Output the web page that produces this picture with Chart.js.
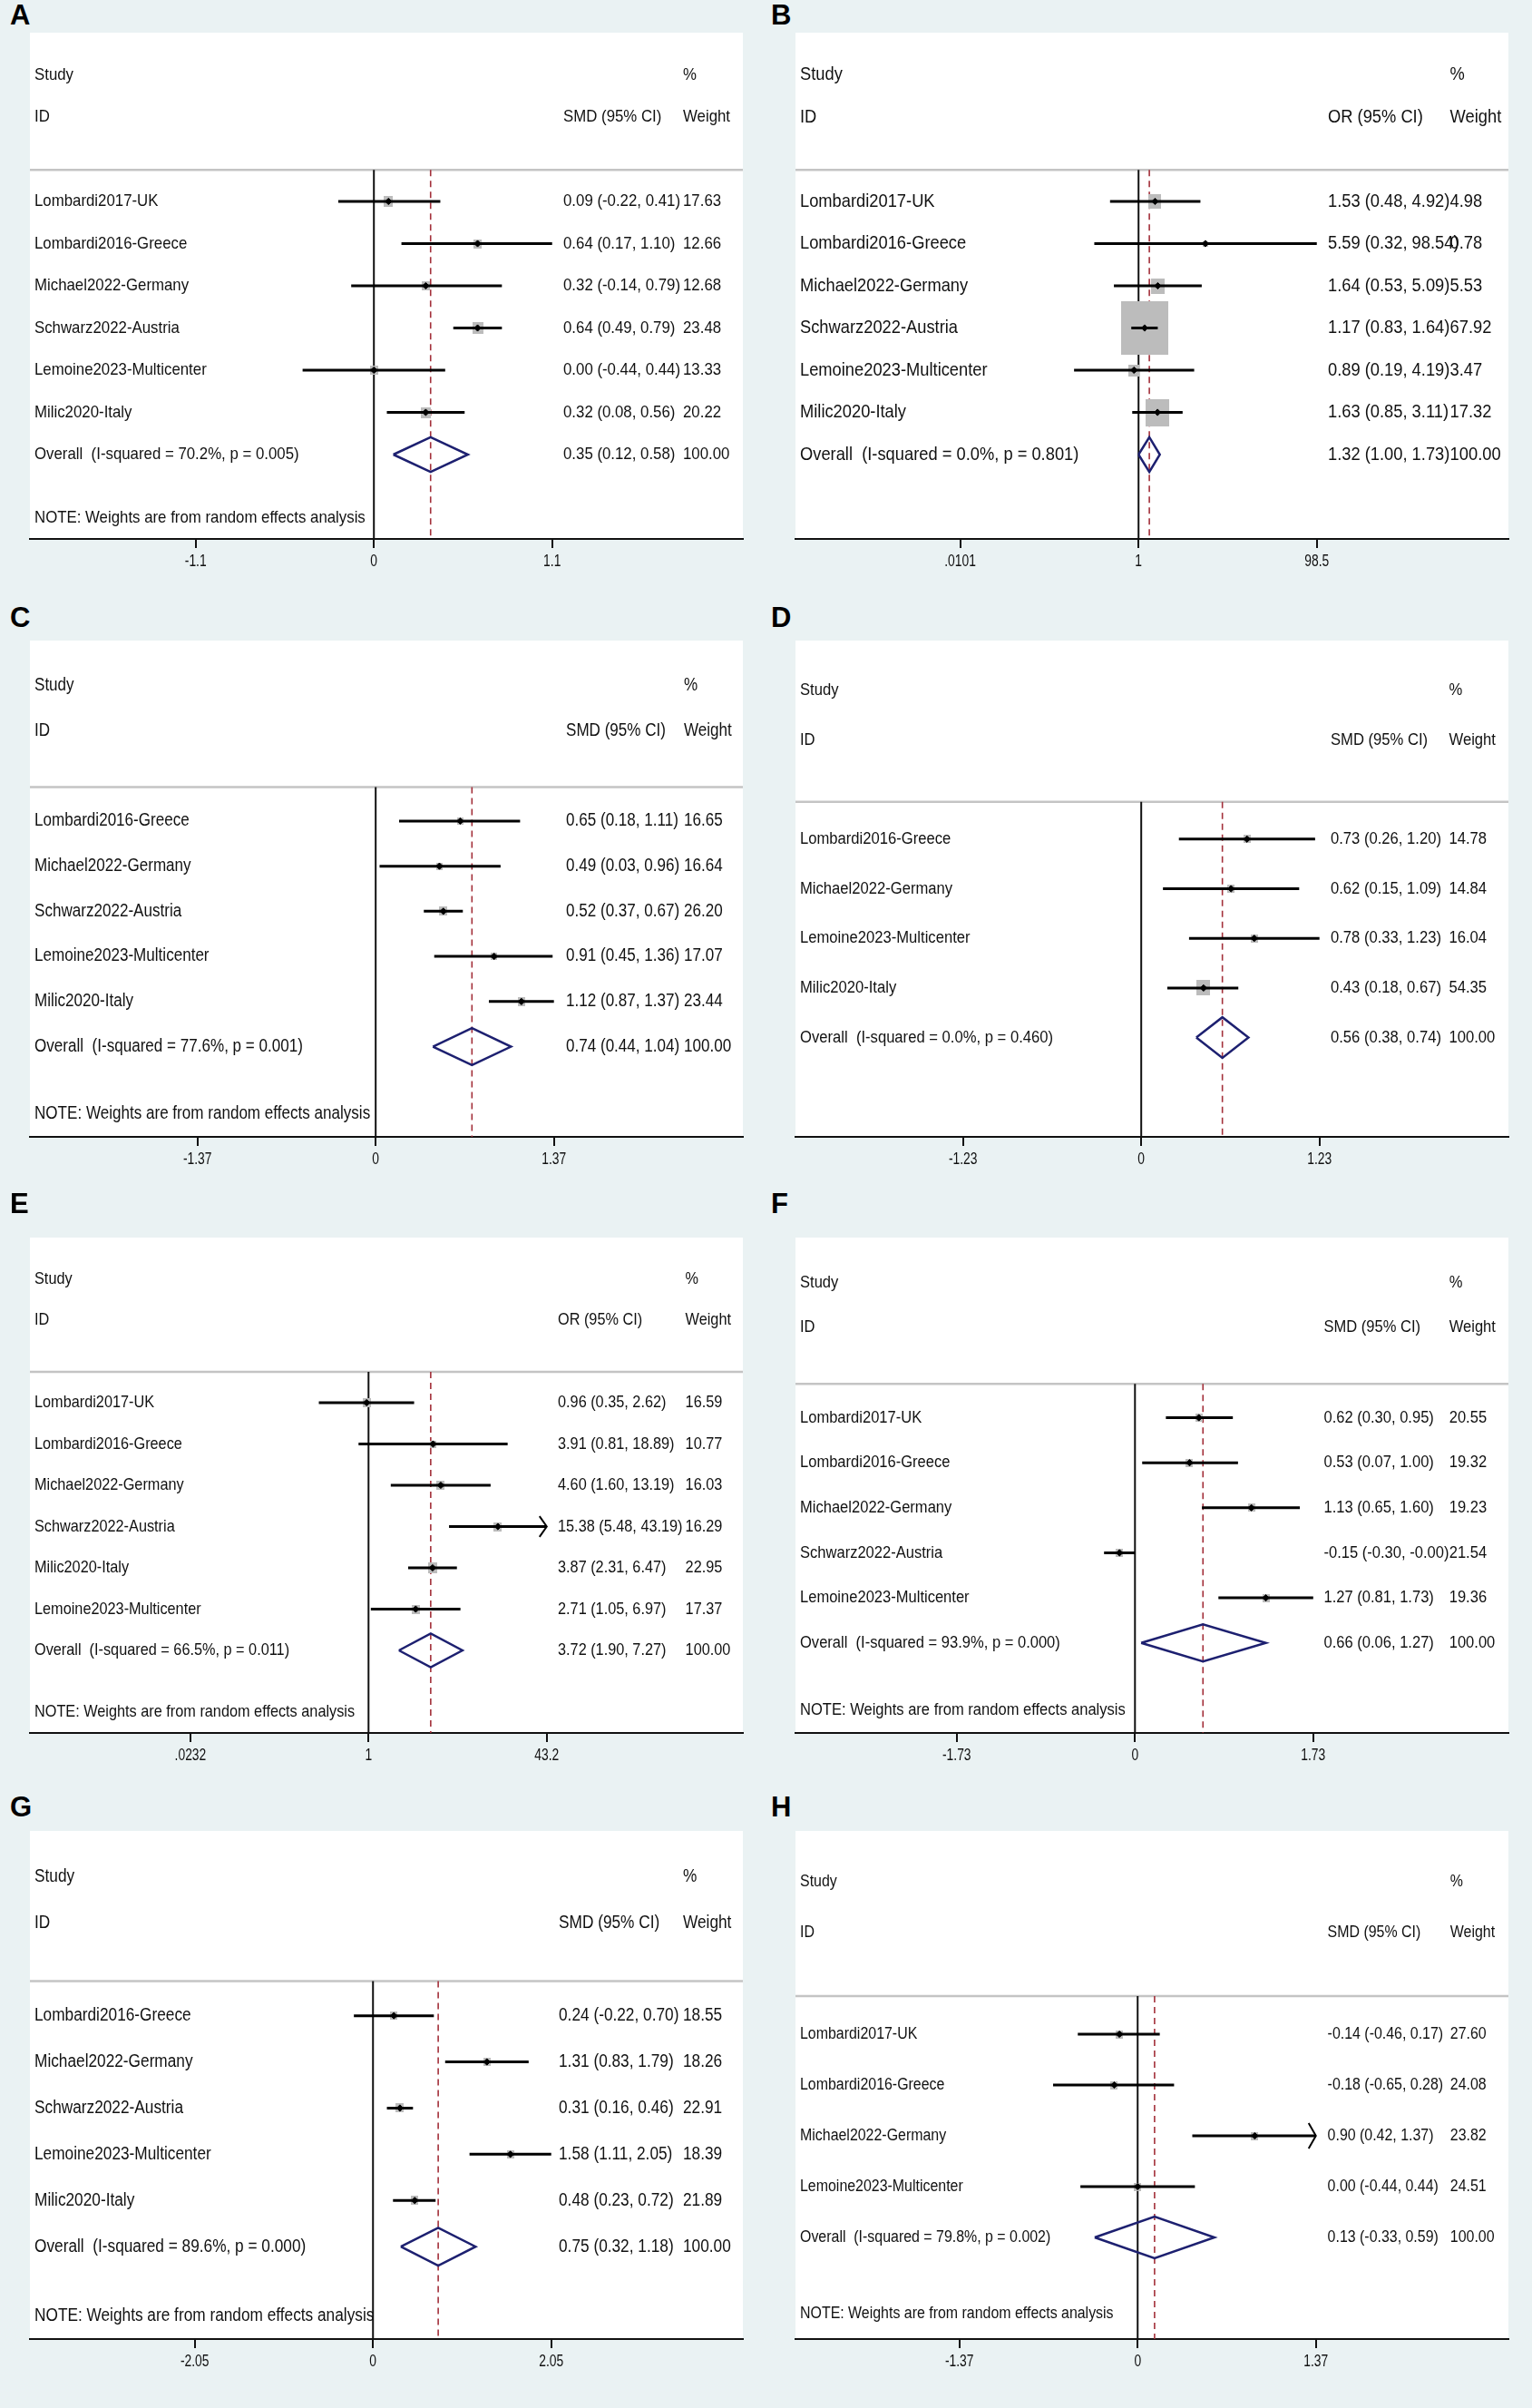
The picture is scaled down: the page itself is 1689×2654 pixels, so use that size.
<!DOCTYPE html>
<html>
<head>
<meta charset="utf-8">
<script src="https://cdn.jsdelivr.net/npm/chart.js@4.4.1/dist/chart.umd.min.js"></script>
<style>
html, body { margin: 0; padding: 0; overflow: hidden; background: #eaf2f3; }
#page { position: relative; width: 1689px; height: 2654px; background: #eaf2f3; }
#page canvas { position: absolute; }
.tag { position: absolute; font: bold 31px "Liberation Sans", Arial, sans-serif; color: #000; line-height: 32px; }
</style>
</head>
<body>
<div id="page"></div>
<script>
// ---- data ----
// A
var studiesA = ['Lombardi2017-UK', 'Lombardi2016-Greece', 'Michael2022-Germany', 'Schwarz2022-Austria', 'Lemoine2023-Multicenter', 'Milic2020-Italy'];
var esA = [0.09, 0.64, 0.32, 0.64, 0.00, 0.32];
var loA = [-0.22, 0.17, -0.14, 0.49, -0.44, 0.08];
var hiA = [0.41, 1.10, 0.79, 0.79, 0.44, 0.56];
var wtA = [17.63, 12.66, 12.68, 23.48, 13.33, 20.22];
var overallA = [0.35, 0.12, 0.58];
var hetA = [70.2, 0.005];
var ticksA = [-1.1, 0, 1.1];
var tickLabelsA = ['-1.1', '0', '1.1'];

// B
var studiesB = ['Lombardi2017-UK', 'Lombardi2016-Greece', 'Michael2022-Germany', 'Schwarz2022-Austria', 'Lemoine2023-Multicenter', 'Milic2020-Italy'];
var esB = [1.53, 5.59, 1.64, 1.17, 0.89, 1.63];
var loB = [0.48, 0.32, 0.53, 0.83, 0.19, 0.85];
var hiB = [4.92, 98.54, 5.09, 1.64, 4.19, 3.11];
var wtB = [4.98, 0.78, 5.53, 67.92, 3.47, 17.32];
var overallB = [1.32, 1.00, 1.73];
var hetB = [0.0, 0.801];
var ticksB = [0.0101, 1, 98.5];
var tickLabelsB = ['.0101', '1', '98.5'];

// C
var studiesC = ['Lombardi2016-Greece', 'Michael2022-Germany', 'Schwarz2022-Austria', 'Lemoine2023-Multicenter', 'Milic2020-Italy'];
var esC = [0.65, 0.49, 0.52, 0.91, 1.12];
var loC = [0.18, 0.03, 0.37, 0.45, 0.87];
var hiC = [1.11, 0.96, 0.67, 1.36, 1.37];
var wtC = [16.65, 16.64, 26.20, 17.07, 23.44];
var overallC = [0.74, 0.44, 1.04];
var hetC = [77.6, 0.001];
var ticksC = [-1.37, 0, 1.37];
var tickLabelsC = ['-1.37', '0', '1.37'];

// D
var studiesD = ['Lombardi2016-Greece', 'Michael2022-Germany', 'Lemoine2023-Multicenter', 'Milic2020-Italy'];
var esD = [0.73, 0.62, 0.78, 0.43];
var loD = [0.26, 0.15, 0.33, 0.18];
var hiD = [1.20, 1.09, 1.23, 0.67];
var wtD = [14.78, 14.84, 16.04, 54.35];
var overallD = [0.56, 0.38, 0.74];
var hetD = [0.0, 0.460];
var ticksD = [-1.23, 0, 1.23];
var tickLabelsD = ['-1.23', '0', '1.23'];

// E
var studiesE = ['Lombardi2017-UK', 'Lombardi2016-Greece', 'Michael2022-Germany', 'Schwarz2022-Austria', 'Milic2020-Italy', 'Lemoine2023-Multicenter'];
var esE = [0.96, 3.91, 4.60, 15.38, 3.87, 2.71];
var loE = [0.35, 0.81, 1.60, 5.48, 2.31, 1.05];
var hiE = [2.62, 18.89, 13.19, 43.19, 6.47, 6.97];
var wtE = [16.59, 10.77, 16.03, 16.29, 22.95, 17.37];
var overallE = [3.72, 1.90, 7.27];
var hetE = [66.5, 0.011];
var ticksE = [0.0232, 1, 43.2];
var tickLabelsE = ['.0232', '1', '43.2'];
var arrowsE = [3];

// F
var studiesF = ['Lombardi2017-UK', 'Lombardi2016-Greece', 'Michael2022-Germany', 'Schwarz2022-Austria', 'Lemoine2023-Multicenter'];
var esF = [0.62, 0.53, 1.13, -0.15, 1.27];
var loF = [0.30, 0.07, 0.65, -0.30, 0.81];
var hiF = [0.95, 1.00, 1.60, -0.00, 1.73];
var wtF = [20.55, 19.32, 19.23, 21.54, 19.36];
var overallF = [0.66, 0.06, 1.27];
var hetF = [93.9, 0.000];
var ticksF = [-1.73, 0, 1.73];
var tickLabelsF = ['-1.73', '0', '1.73'];

// G
var studiesG = ['Lombardi2016-Greece', 'Michael2022-Germany', 'Schwarz2022-Austria', 'Lemoine2023-Multicenter', 'Milic2020-Italy'];
var esG = [0.24, 1.31, 0.31, 1.58, 0.48];
var loG = [-0.22, 0.83, 0.16, 1.11, 0.23];
var hiG = [0.70, 1.79, 0.46, 2.05, 0.72];
var wtG = [18.55, 18.26, 22.91, 18.39, 21.89];
var overallG = [0.75, 0.32, 1.18];
var hetG = [89.6, 0.000];
var ticksG = [-2.05, 0, 2.05];
var tickLabelsG = ['-2.05', '0', '2.05'];

// H
var studiesH = ['Lombardi2017-UK', 'Lombardi2016-Greece', 'Michael2022-Germany', 'Lemoine2023-Multicenter'];
var esH = [-0.14, -0.18, 0.90, 0.00];
var loH = [-0.46, -0.65, 0.42, -0.44];
var hiH = [0.17, 0.28, 1.37, 0.44];
var wtH = [27.60, 24.08, 23.82, 24.51];
var overallH = [0.13, -0.33, 0.59];
var hetH = [79.8, 0.002];
var ticksH = [-1.37, 0, 1.37];
var tickLabelsH = ['-1.37', '0', '1.37'];
var arrowsH = [2];

// ---- layout ----
var W = 798;
var colLeft = [27, 871];
var tagLeft = [11, 850];
var rowTop = [30, 700, 1358, 2012];
var rowAxis = [594, 1253, 1910, 2578];
var tagMid = [17, 681, 1327, 1992];
var STEP_PX = 199.5;
var HS = 0.885;
var FONT = '"Liberation Sans", Arial, sans-serif';

var panels = [
  {tag: 'A', col: 0, row: 0, head: 'SMD (95% CI)', log: false, names: studiesA, es: esA, lo: loA, hi: hiA, wt: wtA, overall: overallA, het: hetA, ticks: ticksA, labels: tickLabelsA, arrows: [], note: true, fs: 19, effX: 594, wtX: 726, zero: 385, box: 2.45},
  {tag: 'B', col: 1, row: 0, head: 'OR (95% CI)', log: true, names: studiesB, es: esB, lo: loB, hi: hiB, wt: wtB, overall: overallB, het: hetB, ticks: ticksB, labels: tickLabelsB, arrows: [], note: false, fs: 20.7, effX: 593, wtX: 727.6, zero: 384, box: 6.3},
  {tag: 'C', col: 0, row: 1, head: 'SMD (95% CI)', log: false, names: studiesC, es: esC, lo: loC, hi: hiC, wt: wtC, overall: overallC, het: hetC, ticks: ticksC, labels: tickLabelsC, arrows: [], note: true, fs: 19.3, effX: 597, wtX: 727, zero: 387, box: 1.75},
  {tag: 'D', col: 1, row: 1, head: 'SMD (95% CI)', log: false, names: studiesD, es: esD, lo: loD, hi: hiD, wt: wtD, overall: overallD, het: hetD, ticks: ticksD, labels: tickLabelsD, arrows: [], note: false, fs: 18.8, effX: 596, wtX: 726.5, zero: 387, box: 2.0},
  {tag: 'E', col: 0, row: 2, head: 'OR (95% CI)', log: true, names: studiesE, es: esE, lo: loE, hi: hiE, wt: wtE, overall: overallE, het: hetE, ticks: ticksE, labels: tickLabelsE, arrows: arrowsE, note: true, fs: 18.4, effX: 588, wtX: 728.6, zero: 379, box: 2.15},
  {tag: 'F', col: 1, row: 2, head: 'SMD (95% CI)', log: false, names: studiesF, es: esF, lo: loF, hi: hiF, wt: wtF, overall: overallF, het: hetF, ticks: ticksF, labels: tickLabelsF, arrows: [], note: true, fs: 18.7, effX: 588.5, wtX: 726.7, zero: 380, box: 1.8},
  {tag: 'G', col: 0, row: 3, head: 'SMD (95% CI)', log: false, names: studiesG, es: esG, lo: loG, hi: hiG, wt: wtG, overall: overallG, het: hetG, ticks: ticksG, labels: tickLabelsG, arrows: [], note: true, fs: 19.5, effX: 589, wtX: 726, zero: 384, box: 1.8},
  {tag: 'H', col: 1, row: 3, head: 'SMD (95% CI)', log: false, names: studiesH, es: esH, lo: loH, hi: hiH, wt: wtH, overall: overallH, het: hetH, ticks: ticksH, labels: tickLabelsH, arrows: arrowsH, note: true, fs: 18.0, effX: 592.6, wtX: 727.8, zero: 383, box: 1.6}
];

function fmt(v) {
  var neg = v < 0 || Object.is(v, -0);
  return (neg ? '-' : '') + Math.abs(v).toFixed(2);
}

function ciText(e, l, h) {
  return fmt(e) + ' (' + fmt(l) + ', ' + fmt(h) + ')';
}

function txt(ctx, s, x, y, size, hs, align) {
  ctx.save();
  ctx.font = size + 'px ' + FONT;
  ctx.fillStyle = '#111';
  ctx.textBaseline = 'middle';
  ctx.textAlign = align || 'left';
  ctx.translate(x, y);
  ctx.scale(hs, 1);
  ctx.fillText(s, 0, 0);
  ctx.restore();
}

function boxStyle(w, c) {
  var s = c * Math.sqrt(w);
  var cv = document.createElement('canvas');
  cv.width = Math.max(2, Math.round(s));
  cv.height = Math.max(2, Math.round(s * 1.13));
  var g = cv.getContext('2d');
  g.fillStyle = '#bcbcbc';
  g.fillRect(0, 0, cv.width, cv.height);
  return cv;
}

var page = document.getElementById('page');

panels.forEach(function (p) {
  var k = p.names.length;
  var tag = document.createElement('div');
  tag.className = 'tag';
  tag.textContent = p.tag;
  tag.style.left = tagLeft[p.col] + 'px';
  tag.style.top = (tagMid[p.row] - 16) + 'px';
  page.appendChild(tag);

  var h = rowAxis[p.row] - rowTop[p.row] + 60;
  var canvas = document.createElement('canvas');
  canvas.width = W;
  canvas.height = h;
  canvas.style.left = colLeft[p.col] + 'px';
  canvas.style.top = rowTop[p.row] + 'px';
  canvas.style.width = W + 'px';
  canvas.style.height = h + 'px';
  page.appendChild(canvas);

  var step = p.log ? Math.log10(p.ticks[2]) : p.ticks[2];
  var a = -p.zero / STEP_PX * step;
  var b = (W - p.zero) / STEP_PX * step;
  var xmin = p.log ? Math.pow(10, a) : a;
  var xmax = p.log ? Math.pow(10, b) : b;
  var nullX = p.log ? 1 : 0;
  var sepY = 2.25, axisY = k + 5, ovY = k + 3;

  var ci = [], pts = [], boxes = [];
  p.names.forEach(function (n, i) {
    ci.push({x: p.lo[i], y: 3 + i}, {x: p.hi[i], y: 3 + i}, {x: null, y: null});
    pts.push({x: p.es[i], y: 3 + i});
    boxes.push(boxStyle(p.wt[i], p.box));
  });
  var ov = p.overall;
  var diamond = [
    {x: ov[1], y: ovY}, {x: ov[0], y: ovY - 0.41}, {x: ov[2], y: ovY},
    {x: ov[0], y: ovY + 0.41}, {x: ov[1], y: ovY}
  ];

  new Chart(canvas, {
    type: 'scatter',
    data: {
      datasets: [
        {data: [{x: xmin, y: sepY}, {x: xmax, y: sepY}], showLine: true, borderColor: '#c4c4c4', borderWidth: 2.5, pointRadius: 0, order: 10},
        {data: [{x: nullX, y: sepY}, {x: nullX, y: axisY}], showLine: true, borderColor: '#111', borderWidth: 2, pointRadius: 0, order: 9},
        {data: [{x: ov[0], y: sepY}, {x: ov[0], y: axisY}], showLine: true, borderColor: '#a3303a', borderWidth: 1.6, borderDash: [7, 5], pointRadius: 0, order: 8},
        {data: pts, pointStyle: boxes, pointRadius: 5, order: 7},
        {data: ci, showLine: true, spanGaps: false, borderColor: '#000', borderWidth: 3, pointRadius: 0, order: 6},
        {data: pts, pointStyle: 'rectRot', pointRadius: 3.6, backgroundColor: '#000', borderColor: '#000', borderWidth: 1, order: 5},
        {data: diamond, showLine: true, borderColor: '#1d2070', borderWidth: 2.5, borderJoinStyle: 'miter', pointRadius: 0, order: 4}
      ]
    },
    options: {
      responsive: false,
      animation: false,
      devicePixelRatio: 1,
      events: [],
      layout: {padding: 0},
      plugins: {legend: {display: false}, tooltip: {enabled: false}},
      scales: {
        x: {
          type: p.log ? 'logarithmic' : 'linear',
          min: xmin,
          max: xmax,
          bounds: 'data',
          afterBuildTicks: function (s) { s.ticks = p.ticks.map(function (v) { return {value: v}; }); },
          afterFit: function (s) { s.height = 60; },
          ticks: {display: false},
          grid: {display: true, drawOnChartArea: false, drawTicks: true, tickLength: 10, color: '#111', lineWidth: 2},
          border: {display: true, color: '#111', width: 2}
        },
        y: {type: 'linear', display: false, reverse: true, min: -1, max: axisY}
      }
    },
    plugins: [{
      id: 'forest',
      beforeDraw: function (chart) {
        var ar = chart.chartArea, c = chart.ctx;
        c.save();
        c.fillStyle = '#fff';
        c.fillRect(ar.left, ar.top, ar.right - ar.left, ar.bottom - ar.top);
        c.restore();
      },
      afterDraw: function (chart) {
        var c = chart.ctx, xs = chart.scales.x, ys = chart.scales.y, ar = chart.chartArea;
        var rowPx = ys.getPixelForValue(1) - ys.getPixelForValue(0);
        // arrows for truncated CIs
        p.arrows.forEach(function (i) {
          var px = xs.getPixelForValue(p.hi[i]), py = ys.getPixelForValue(3 + i), dy = 0.25 * rowPx;
          c.save();
          c.strokeStyle = '#000';
          c.lineWidth = 2;
          c.beginPath();
          c.moveTo(px - 8, py - dy);
          c.lineTo(px, py);
          c.lineTo(px - 8, py + dy);
          c.stroke();
          c.restore();
        });
        var fs = p.fs, lx = 11;
        txt(c, 'Study', lx, ys.getPixelForValue(0), fs, HS);
        txt(c, '%', p.wtX, ys.getPixelForValue(0), fs, HS);
        txt(c, 'ID', lx, ys.getPixelForValue(1), fs, HS);
        txt(c, p.head, p.effX, ys.getPixelForValue(1), fs, HS);
        txt(c, 'Weight', p.wtX, ys.getPixelForValue(1), fs, HS);
        p.names.forEach(function (n, i) {
          var y = ys.getPixelForValue(3 + i);
          txt(c, n, lx, y, fs, HS);
          txt(c, ciText(p.es[i], p.lo[i], p.hi[i]), p.effX, y, fs, HS);
          txt(c, p.wt[i].toFixed(2), p.wtX, y, fs, HS);
        });
        var yo = ys.getPixelForValue(ovY);
        txt(c, 'Overall  (I-squared = ' + p.het[0].toFixed(1) + '%, p = ' + p.het[1].toFixed(3) + ')', lx, yo, fs, HS);
        txt(c, ciText(ov[0], ov[1], ov[2]), p.effX, yo, fs, HS);
        txt(c, (100).toFixed(2), p.wtX, yo, fs, HS);
        if (p.note) {
          txt(c, 'NOTE: Weights are from random effects analysis', lx, ys.getPixelForValue(k + 4.5), fs, HS);
        }
        xs.ticks.forEach(function (t, i) {
          txt(c, p.labels[i], xs.getPixelForValue(t.value), ar.bottom + 25, 18, 0.77, 'center');
        });
      }
    }]
  });
});
</script>
</body>
</html>
